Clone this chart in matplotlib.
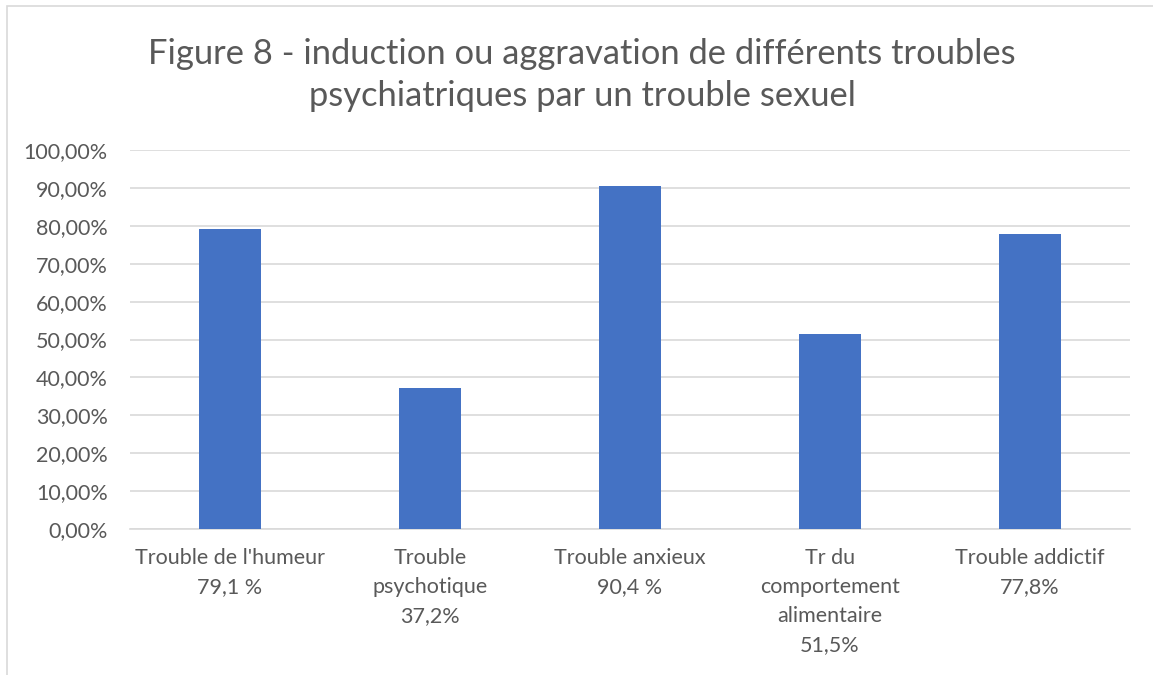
import matplotlib.pyplot as plt
from matplotlib.patches import Rectangle

categories = [
    "Trouble de l'humeur\n79,1 %",
    "Trouble\npsychotique\n37,2%",
    "Trouble anxieux\n90,4 %",
    "Tr du\ncomportement\nalimentaire\n51,5%",
    "Trouble addictif\n77,8%",
]
values = [79.1, 37.2, 90.4, 51.5, 77.8]
yticks = list(range(0, 101, 10))
title = "Figure 8 - induction ou aggravation de différents troubles\npsychiatriques par un trouble sexuel"

plt.rcParams["font.family"] = ["Lato", "DejaVu Sans"]
text_color = "#595959"

fig = plt.figure(figsize=(11.53, 6.75), dpi=100)
W, H = 1153, 675
ax = fig.add_axes([130 / W, 1 - 529 / H, 1000 / W, 379 / H])

x = range(len(values))
ax.bar(x, values, width=0.31, color="#4472c4", zorder=3)

ax.set_xlim(-0.5, len(values) - 0.5)
ax.set_ylim(0, 100)
ax.set_yticks(yticks)
ax.set_yticklabels([f"{v},00%" for v in yticks], fontsize=15.5, color=text_color)
ax.set_xticks(list(x))
ax.set_xticklabels(categories, fontsize=15.5, color=text_color, linespacing=1.55, va="top")
ax.tick_params(axis="both", length=0)
ax.tick_params(axis="x", pad=14)
ax.tick_params(axis="y", pad=16)
ax.grid(axis="y", color="#d9d9d9", linewidth=1.2, zorder=0)
for s in ["top", "right", "left"]:
    ax.spines[s].set_visible(False)
ax.spines["bottom"].set_color("#d9d9d9")
ax.spines["bottom"].set_linewidth(1.2)

fig.text(582 / W, 1 - 75 / H, title, ha="center", va="center", fontsize=24.8,
         color=text_color, linespacing=1.4)

# chart border
fig.patches.append(Rectangle((7 / W, -0.1), 1.2, 1.1 - 6 / H, transform=fig.transFigure,
                             fill=False, edgecolor="#d9d9d9", linewidth=1.2))

fig.savefig("out.png", dpi=100, facecolor="white")
